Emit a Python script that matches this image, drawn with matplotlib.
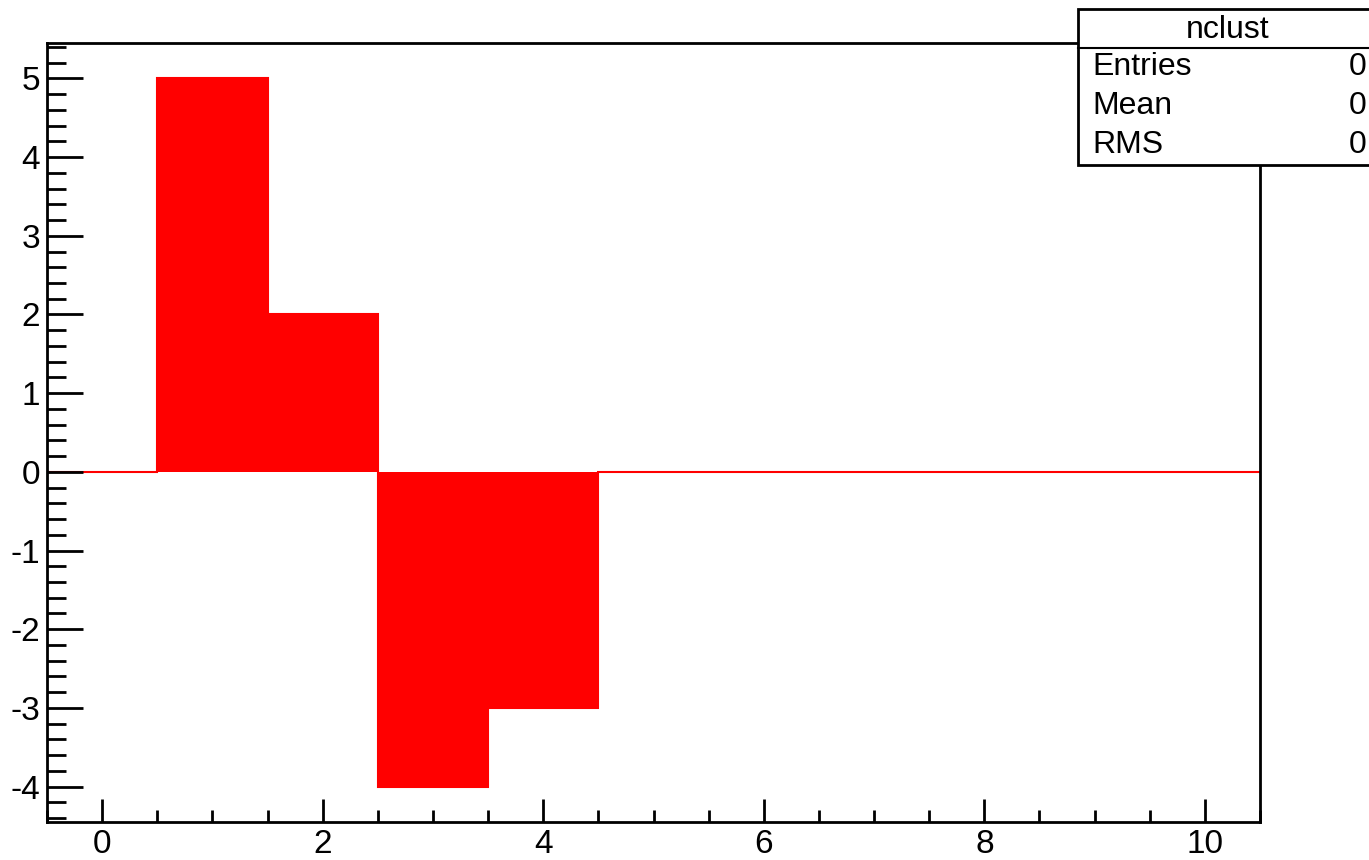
import numpy as np
import matplotlib.pyplot as plt
from matplotlib.patches import Rectangle
from matplotlib.ticker import MultipleLocator

plt.rcParams["font.family"] = ["Liberation Sans", "DejaVu Sans"]
plt.rcParams["axes.unicode_minus"] = False

# histogram "nclust": bin centres and contents
bin_centers = [0, 1, 2, 3, 4, 5, 6, 7, 8, 9, 10]
bin_contents = [0, 5, 2, -4, -3, 0, 0, 0, 0, 0, 0]

# stats box
stats_title = "nclust"
stats_names = ["Entries", "Mean", "RMS"]
stats_values = ["0", "0", "0"]

edges = np.append(np.array(bin_centers) - 0.5, bin_centers[-1] + 0.5)

fig = plt.figure(figsize=(13.69, 8.6), dpi=100)
ax = fig.add_axes([47 / 1369, 38 / 860, (1260 - 47) / 1369, (822 - 43) / 860])

ax.stairs(bin_contents, edges, fill=True, color="#ff0000", baseline=0)
ax.stairs(bin_contents, edges, color="#ff0000", lw=1.5, baseline=0)

ax.set_xlim(-0.5, 10.5)
ax.set_ylim(-4.45, 5.45)

ax.xaxis.set_major_locator(MultipleLocator(2))
ax.xaxis.set_minor_locator(MultipleLocator(0.5))
ax.yaxis.set_major_locator(MultipleLocator(1))
ax.yaxis.set_minor_locator(MultipleLocator(0.2))

for s in ax.spines.values():
    s.set_linewidth(2)
ax.tick_params(axis="both", which="both", direction="in", width=2, labelsize=24)
ax.tick_params(axis="y", which="major", length=26, pad=5)
ax.tick_params(axis="y", which="minor", length=13.5)
ax.tick_params(axis="x", which="major", length=16.5, pad=5)
ax.tick_params(axis="x", which="minor", length=8.5)

# stats box on top of the frame
x0, y0 = 1078 / 1369, 1 - 165 / 860
w, h = 1 - x0 + 0.01, (165 - 9) / 860
fig.patches.append(Rectangle((x0, y0), w, h, transform=fig.transFigure,
                             facecolor="white", edgecolor="black", lw=2, zorder=5))
sep_y = 1 - 48 / 860
fig.add_artist(plt.Line2D([x0, 1.0], [sep_y, sep_y], transform=fig.transFigure,
                          color="black", lw=1.5, zorder=6))
fig.text(1228 / 1369, 1 - 30 / 860, stats_title, ha="center", va="center",
         fontsize=23, zorder=7)
row_y = [67, 106, 145]
for name, val, yy in zip(stats_names, stats_values, row_y):
    fig.text(1092 / 1369, 1 - yy / 860, name, ha="left", va="center",
             fontsize=23, zorder=7)
    fig.text(1366 / 1369, 1 - yy / 860, val, ha="right", va="center",
             fontsize=23, zorder=7)

fig.savefig("out.png", dpi=100)
